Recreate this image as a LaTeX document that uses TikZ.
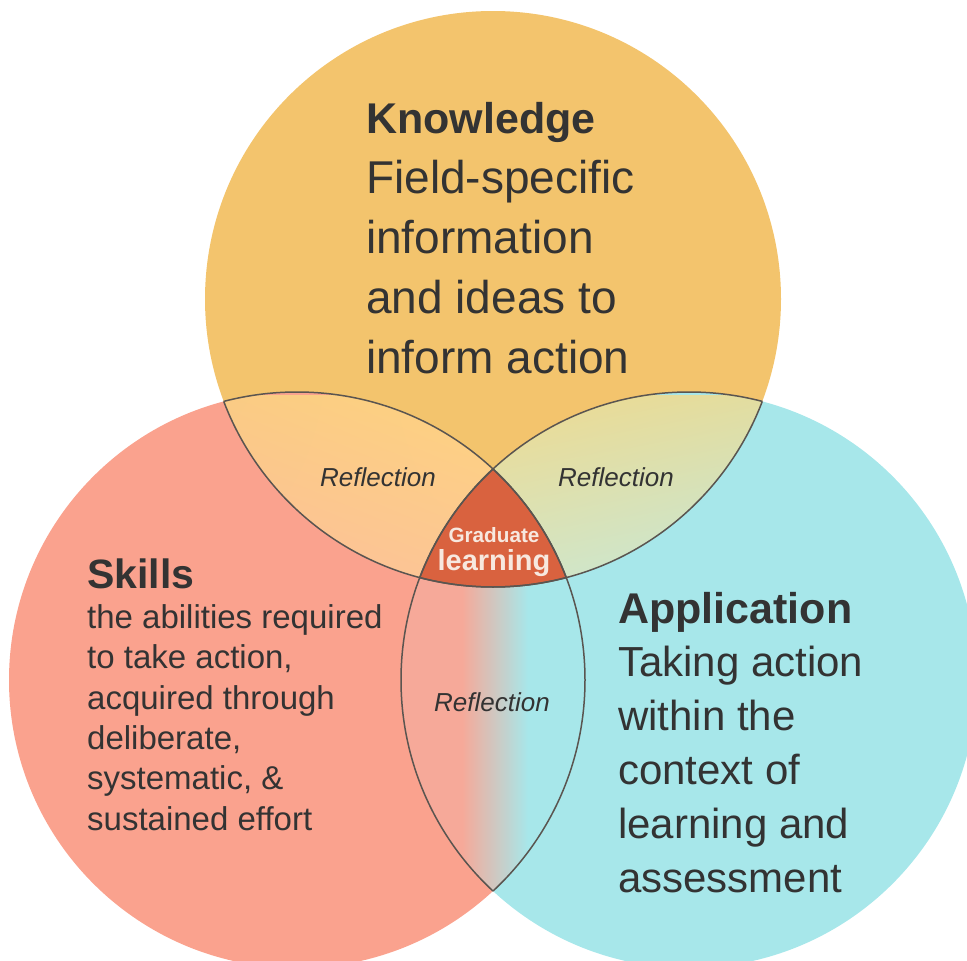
\documentclass[tikz,border=0pt]{standalone}
\usepackage{fontspec}
\setmainfont{Liberation Sans}
\usetikzlibrary{shadings}
\definecolor{knowc}{HTML}{F3C46D}
\definecolor{skillc}{HTML}{FAA28E}
\definecolor{appc}{HTML}{A7E7EA}
\definecolor{lensl}{HTML}{F6A999}
\definecolor{gradc}{HTML}{D9623F}
\definecolor{txtc}{HTML}{333333}
\definecolor{gtxtc}{HTML}{F7E8DF}
\definecolor{edgec}{HTML}{5A5550}
\definecolor{klul}{HTML}{FACB84}
\definecolor{klur}{HTML}{FFD67E}
\definecolor{klll}{HTML}{FCBE9C}
\definecolor{kllr}{HTML}{FCC892}
\definecolor{kaul}{HTML}{F2D98C}
\definecolor{kaur}{HTML}{E2DDA0}
\definecolor{kall}{HTML}{D8E5BE}
\definecolor{kalr}{HTML}{C3E8DC}
\begin{document}
\begin{tikzpicture}[x=1pt,y=-1pt,
  edgeline/.style={draw=edgec,line width=1.5pt},
  body/.style={text=txtc,inner sep=0pt,align=left,anchor=base west},
  refl/.style={text=txtc,inner sep=0pt,anchor=base,font=\itshape\fontsize{26}{30}\selectfont}]
\def\R{288}
\useasboundingbox (0,0) rectangle (967,961);
\clip (0,0) rectangle (967,961);
\coordinate (cT) at (493,299);
\coordinate (cL) at (297,680);
\coordinate (cR) at (689,680);
% circles
\fill[knowc] (cT) circle[radius=\R];
\fill[skillc] (cL) circle[radius=\R];
\fill[appc] (cR) circle[radius=\R];
% knowledge & skills
\begin{scope}
  \clip (cT) circle[radius=\R];
  \clip (cL) circle[radius=\R];
  \shade[upper left=klul, upper right=klur, lower left=klll, lower right=kllr]
        (215,395) rectangle (575,590);
\end{scope}
% knowledge & application
\begin{scope}
  \clip (cT) circle[radius=\R];
  \clip (cR) circle[radius=\R];
  \shade[upper left=kaul, upper right=kaur, lower left=kall, lower right=kalr]
        (410,395) rectangle (770,590);
\end{scope}
% skills & application
\begin{scope}
  \clip (cL) circle[radius=\R];
  \clip (cR) circle[radius=\R];
  \fill[lensl] (395,460) rectangle (462,900);
  \shade[left color=lensl,right color=appc] (462,460) rectangle (528,900);
  \fill[appc] (528,460) rectangle (590,900);
\end{scope}
% centre
\begin{scope}
  \clip (cT) circle[radius=\R];
  \clip (cL) circle[radius=\R];
  \fill[gradc] (cR) circle[radius=\R];
\end{scope}
% outlines inside the overlaps
\foreach \a/\b in {cT/cL,cT/cR,cL/cT,cL/cR,cR/cT,cR/cL}{
  \begin{scope}
    \clip (\b) circle[radius=\R];
    \draw[edgeline] (\a) circle[radius=\R];
  \end{scope}
}
% texts (base anchor = baseline of the last line)
\node[body,font=\fontsize{46}{60}\selectfont] (know) at (366,373)
  {{\bfseries\fontsize{43}{60}\selectfont Knowledge}\\Field-specific\\information\\and ideas to\\inform action};
\node[body,font=\fontsize{33}{40.3}\selectfont] (skill) at (87,830)
  {{\bfseries\fontsize{41}{40.3}\selectfont Skills}\\the abilities required\\to take action,\\acquired through\\deliberate,\\systematic, \&\\sustained effort};
\node[body,font=\fontsize{42}{53.8}\selectfont] (app) at (618,892)
  {{\bfseries\fontsize{43}{53.8}\selectfont Application}\\Taking action\\within the\\context of\\learning and\\assessment};
\node[refl] (refl1) at (378,486) {Reflection};
\node[refl] (refl2) at (616,486) {Reflection};
\node[refl] (refl3) at (492,711) {Reflection};
\node[text=gtxtc,inner sep=0pt,anchor=base,align=center,font=\bfseries\fontsize{20.7}{28}\selectfont] (grad) at (494,570)
  {Graduate\\{\fontsize{29}{28}\selectfont learning}};
\end{tikzpicture}
\end{document}
